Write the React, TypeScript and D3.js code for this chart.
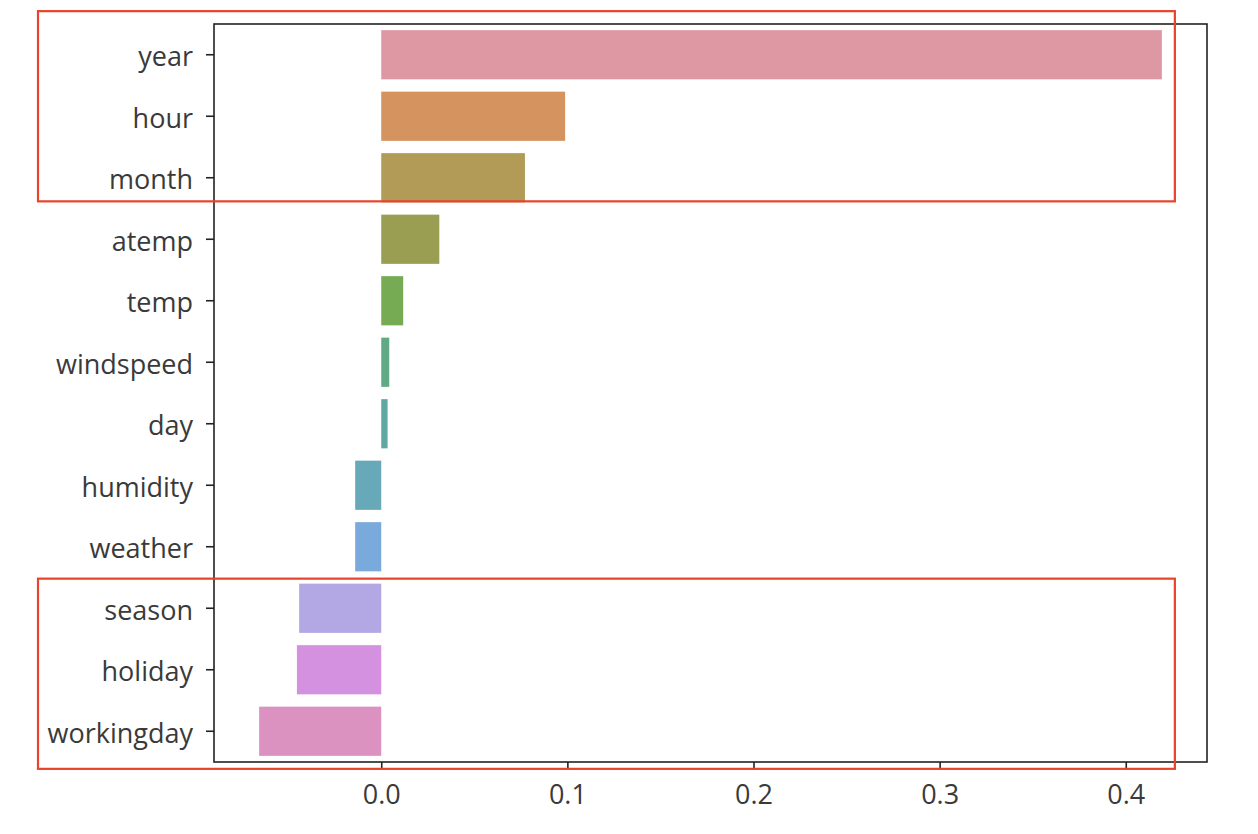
import { useEffect, useRef } from 'react';
import * as d3 from 'd3';

// feature correlations, top to bottom as plotted
const features = [
  'year', 'hour', 'month', 'atemp', 'temp', 'windspeed',
  'day', 'humidity', 'weather', 'season', 'holiday', 'workingday'
];
const values = [
  0.4194, 0.0988, 0.0772, 0.0312, 0.0118, 0.0043,
  0.0034, -0.014, -0.014, -0.0441, -0.0453, -0.0656
];
const barColors = [
  '#dd98a3', '#d4935f', '#b19b56', '#999e52', '#76aa53', '#62aa86',
  '#60a7a2', '#67a8b9', '#7aaadc', '#b3a7e4', '#d491e0', '#dc92c0'
];
const xTicks = [0, 0.1, 0.2, 0.3, 0.4];
// highlighted feature groups (first, last)
const highlights = [
  ['year', 'month'],
  ['season', 'workingday']
];
// extra space above / below the bars for each highlight box
const boxPad = [
  [19, -1],
  [5, 13]
];

const W = 1258;
const H = 834;
const margin = { top: 24, right: 51, bottom: 72, left: 214 };

const App = () => {
  const ref = useRef<SVGSVGElement>(null);

  useEffect(() => {
    if (!ref.current) return;
    const svg = d3.select(ref.current);
    svg.selectAll('*').remove();

    const lo = d3.min(values) as number;
    const hi = d3.max(values) as number;
    const pad = (hi - lo) * 0.05;

    const x = d3
      .scaleLinear()
      .domain([lo - pad, hi + pad])
      .range([margin.left, W - margin.right]);

    const y = d3
      .scaleBand()
      .domain(features)
      .range([margin.top, H - margin.bottom])
      .paddingInner(0.2)
      .paddingOuter(0.1);

    const font = '"Open Sans", "Noto Sans", sans-serif';

    svg
      .append('g')
      .selectAll('rect')
      .data(values)
      .join('rect')
      .attr('x', d => x(Math.min(0, d)))
      .attr('width', d => Math.abs(x(d) - x(0)))
      .attr('y', (_, i) => y(features[i]) as number)
      .attr('height', y.bandwidth())
      .attr('fill', (_, i) => barColors[i]);

    // frame
    svg
      .append('rect')
      .attr('x', margin.left)
      .attr('y', margin.top)
      .attr('width', W - margin.left - margin.right)
      .attr('height', H - margin.top - margin.bottom)
      .attr('fill', 'none')
      .attr('stroke', '#222')
      .attr('stroke-width', 1.6);

    const xAxis = svg
      .append('g')
      .attr('transform', `translate(0, ${H - margin.bottom})`)
      .call(
        d3.axisBottom(x)
          .tickValues(xTicks)
          .tickFormat(d3.format('.1f'))
          .tickSize(8)
          .tickPadding(15)
      );
    xAxis.select('.domain').remove();

    const yAxis = svg
      .append('g')
      .attr('transform', `translate(${margin.left}, 0)`)
      .call(d3.axisLeft(y).tickSize(8).tickPadding(13));
    yAxis.select('.domain').remove();
    yAxis.selectAll('text').attr('dy', '0.42em');

    [xAxis, yAxis].forEach(g => {
      g.selectAll('line').attr('stroke', '#222').attr('stroke-width', 1.6);
      g.selectAll('text')
        .attr('fill', '#3a3a3a')
        .style('font-family', font)
        .style('font-size', '27px');
    });

    // red highlight boxes
    svg
      .append('g')
      .selectAll('rect')
      .data(highlights)
      .join('rect')
      .attr('x', 38)
      .attr('y', (d, i) => (y(d[0]) as number) - boxPad[i][0])
      .attr('width', x(hi) + 13 - 38)
      .attr('height', (d, i) =>
        (y(d[1]) as number) + y.bandwidth() - (y(d[0]) as number) + boxPad[i][0] + boxPad[i][1])
      .attr('fill', 'none')
      .attr('stroke', '#e8432b')
      .attr('stroke-width', 2.2);
  }, []);

  return (
    <div style={{ position: 'absolute', left: 0, top: 0 }}>
      <svg ref={ref} width={W} height={H} style={{ display: 'block', background: '#fff' }} />
    </div>
  );
};

export default App;
